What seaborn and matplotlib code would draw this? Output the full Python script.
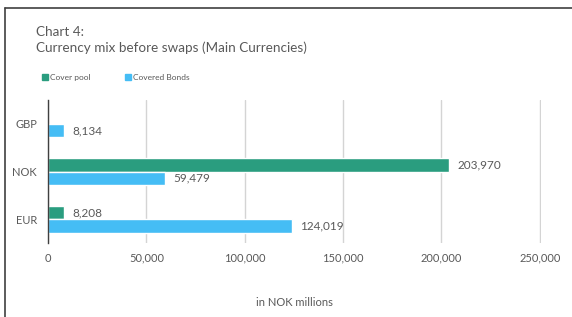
"""Currency mix before swaps, horizontal grouped bars."""

import numpy as np
import pandas as pd
import seaborn as sns
import matplotlib.pyplot as plt
from matplotlib.lines import Line2D

currencies = ["GBP", "NOK", "EUR"]
cover_pool = [np.nan, 203970, 8208]
covered_bonds = [8134, 59479, 124019]
series = ["Cover pool", "Covered Bonds"]
colors = ["#2a9d7f", "#45bdf5"]
x_ticks = [0, 50000, 100000, 150000, 200000, 250000]

TXT = "#595959"

df = pd.DataFrame(
    {
        "currency": currencies * 2,
        "value": cover_pool + covered_bonds,
        "series": [series[0]] * 3 + [series[1]] * 3,
    }
)

sns.set_style("white")
plt.rcParams["font.family"] = ["Lato", "DejaVu Sans"]

fig = plt.figure(figsize=(5.72, 3.17), dpi=100)
ax = fig.add_axes([0.0839, 0.2334, 0.862, 0.451])

sns.barplot(
    data=df,
    y="currency",
    x="value",
    hue="series",
    order=currencies,
    hue_order=series,
    palette=colors,
    orient="h",
    width=0.56,
    saturation=1,
    ax=ax,
    legend=False,
)

# Value labels to the right of each bar
for cont in ax.containers:
    ax.bar_label(cont, fmt="{:,.0f}", padding=6, fontsize=8.5, color=TXT)

ax.set_xlim(0, 250600)
ax.set_ylim(2.5, -0.5)
ax.set_xticks(x_ticks)
ax.set_xticklabels([f"{v:,}" for v in x_ticks])
ax.grid(axis="x", color="#d4d4d4", lw=1)
ax.set_axisbelow(True)

ax.set_xlabel("in NOK millions", fontsize=8, color=TXT, labelpad=24)
ax.set_ylabel("")
ax.tick_params(axis="x", length=0, labelsize=8, labelcolor=TXT, pad=7)
ax.tick_params(axis="y", length=0, labelsize=8, labelcolor=TXT, pad=8)
ax.set_yticks([-0.5, 0.5, 1.5, 2.5], minor=True)
ax.tick_params(axis="y", which="minor", length=4, color="#404040", width=1)

for s in ["top", "right", "bottom"]:
    ax.spines[s].set_visible(False)
ax.spines["left"].set_color("#404040")
ax.spines["left"].set_linewidth(1)

# Legend
handles = [
    Line2D([], [], marker="s", ls="", color=c, markersize=4) for c in colors
]
fig.legend(
    handles,
    series,
    loc="center left",
    bbox_to_anchor=(0.056, 0.757),
    ncol=2,
    frameon=False,
    fontsize=6,
    labelcolor=TXT,
    handletextpad=0.05,
    handlelength=1.2,
    columnspacing=3.9,
)

# Title
fig.text(0.063, 0.9, "Chart 4:", fontsize=9.7, color=TXT, va="center")
fig.text(
    0.063,
    0.85,
    "Currency mix before swaps (Main Currencies)",
    fontsize=9.7,
    color=TXT,
    va="center",
)

# Frame lines (top and left)
fig.add_artist(Line2D([0.009, 1.0], [0.975, 0.975], color="#404040", lw=1.2))
fig.add_artist(Line2D([0.009, 0.009], [0.0, 0.975], color="#404040", lw=1.2))

plt.savefig("out.png", dpi=100)
